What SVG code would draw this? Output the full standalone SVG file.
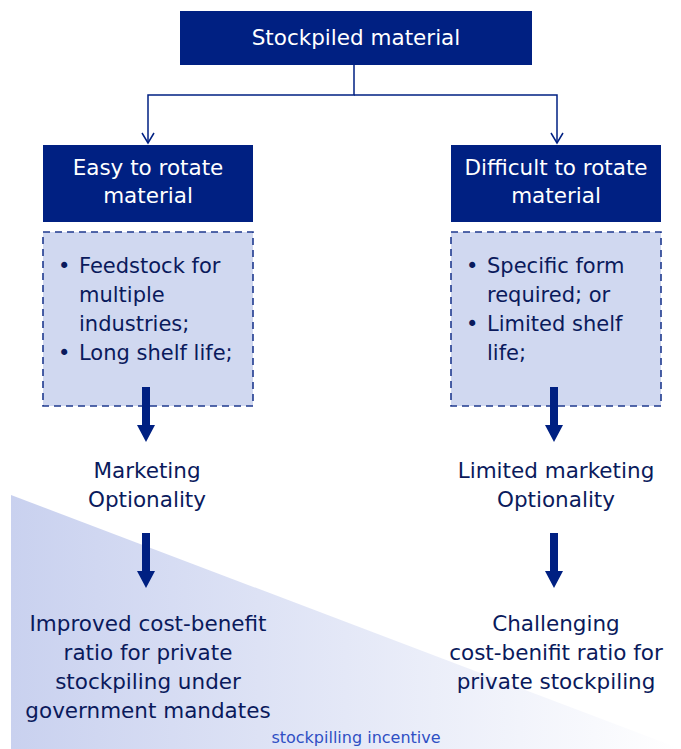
<svg xmlns="http://www.w3.org/2000/svg" width="681" height="749" viewBox="0 0 681 749">
<defs>
<linearGradient id="tri" x1="0" y1="0" x2="1" y2="0">
<stop offset="0" stop-color="#c9d1ef"/>
<stop offset="1" stop-color="#ffffff"/>
</linearGradient>
<marker id="open" markerWidth="14" markerHeight="14" refX="12" refY="7" orient="auto" markerUnits="userSpaceOnUse">
<path d="M2,1 L12,7 L2,13" fill="none" stroke="#002082" stroke-width="1.5"/>
</marker>
</defs>
<style>
.box{fill:#002082}
.dash{fill:#d0d8f0;stroke:#1f3a8f;stroke-width:1.6;stroke-dasharray:7,5}
.wt{font-family:"DejaVu Sans",sans-serif;font-size:21.5px;fill:#ffffff;text-anchor:middle}
.dt{font-family:"DejaVu Sans",sans-serif;font-size:21.5px;fill:#0a1a5c;text-anchor:middle}
.bt{font-family:"DejaVu Sans",sans-serif;font-size:21px;fill:#0a1a5c}
.fat{fill:#002082}
.conn{fill:none;stroke:#002082;stroke-width:1.5}
</style>
<polygon points="11,495 681,749 11,749" fill="url(#tri)"/>
<text x="356" y="743" font-family="'DejaVu Sans',sans-serif" font-size="16" fill="#2f4fc4" text-anchor="middle">stockpilling incentive</text>
<g id="root">
<rect class="box" x="180" y="11" width="352" height="54"/>
<text class="wt" x="356" y="45">Stockpiled material</text>
</g>
<g id="easy">
<rect class="box" x="43" y="145" width="210" height="77"/>
<text class="wt" x="148" y="175">Easy to rotate</text>
<text class="wt" x="148" y="203">material</text>
</g>
<g id="difficult">
<rect class="box" x="451" y="145" width="210" height="77"/>
<text class="wt" x="556" y="175">Difficult to rotate</text>
<text class="wt" x="556" y="203">material</text>
</g>
<g id="easy-props">
<rect class="dash" x="43" y="232" width="210" height="174"/>
<text class="bt" x="58" y="273">•</text>
<text class="bt" x="79" y="273">Feedstock for</text>
<text class="bt" x="79" y="302">multiple</text>
<text class="bt" x="79" y="331">industries;</text>
<text class="bt" x="58" y="360">•</text>
<text class="bt" x="79" y="360">Long shelf life;</text>
</g>
<g id="difficult-props">
<rect class="dash" x="451" y="232" width="210" height="174"/>
<text class="bt" x="466" y="273">•</text>
<text class="bt" x="487" y="273">Specific form</text>
<text class="bt" x="487" y="302">required; or</text>
<text class="bt" x="466" y="331">•</text>
<text class="bt" x="487" y="331">Limited shelf</text>
<text class="bt" x="487" y="360">life;</text>
</g>
<g id="marketing">
<text class="dt" x="147" y="478">Marketing</text>
<text class="dt" x="147" y="507">Optionality</text>
</g>
<g id="limited-marketing">
<text class="dt" x="556" y="478">Limited marketing</text>
<text class="dt" x="556" y="507">Optionality</text>
</g>
<g id="improved">
<text class="dt" x="148" y="631">Improved cost-benefit</text>
<text class="dt" x="148" y="660">ratio for private</text>
<text class="dt" x="148" y="689">stockpiling under</text>
<text class="dt" x="148" y="718">government mandates</text>
</g>
<g id="challenging">
<text class="dt" x="556" y="631">Challenging</text>
<text class="dt" x="556" y="660">cost-benifit ratio for</text>
<text class="dt" x="556" y="689">private stockpiling</text>
</g>
<g id="connectors">
<path class="conn" d="M354,65 V95 H148 V143" marker-end="url(#open)"/>
<path class="conn" d="M354,95 H557 V143" marker-end="url(#open)"/>
<path class="fat" d="M142,387 H150 V425 H155 L146,442 L137,425 H142 Z"/>
<path class="fat" d="M550,387 H558 V425 H563 L554,442 L545,425 H550 Z"/>
<path class="fat" d="M142,533 H150 V571 H155 L146,588 L137,571 H142 Z"/>
<path class="fat" d="M550,533 H558 V571 H563 L554,588 L545,571 H550 Z"/>
</g>
</svg>
